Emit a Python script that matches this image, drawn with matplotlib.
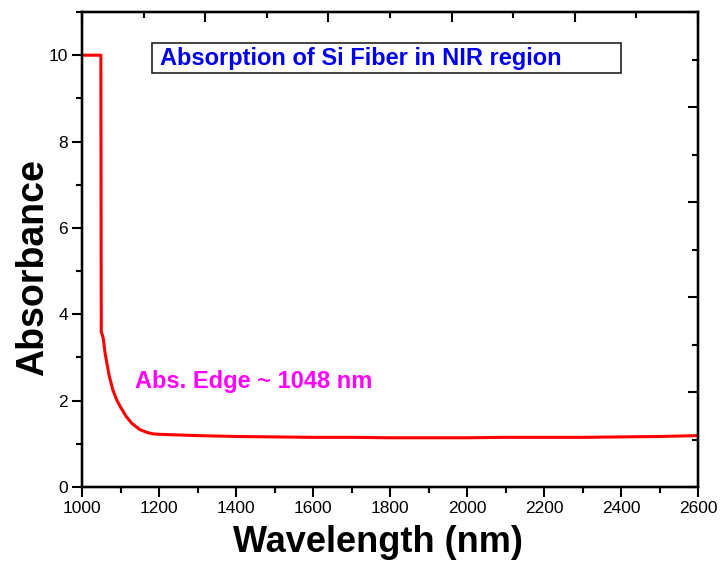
import matplotlib
matplotlib.use("Agg")
import matplotlib.pyplot as plt
from matplotlib.ticker import MultipleLocator
from matplotlib.patches import Rectangle

# Absorption spectrum of the Si fiber (wavelength in nm, absorbance)
wavelength = [1000, 1049, 1050, 1055, 1060, 1070, 1080, 1090, 1100, 1115,
              1130, 1150, 1170, 1185, 1200, 1300, 1400, 1500, 1600, 1700,
              1800, 1900, 2000, 2100, 2200, 2300, 2400, 2500, 2600]
absorbance = [10.0, 10.0, 3.6, 3.45, 3.1, 2.6, 2.25, 2.02, 1.85, 1.63,
              1.47, 1.33, 1.26, 1.23, 1.22, 1.19, 1.17, 1.16, 1.15, 1.15,
              1.14, 1.14, 1.14, 1.15, 1.15, 1.15, 1.16, 1.17, 1.19]

title_text = "Absorption of Si Fiber in NIR region"
edge_text = "Abs. Edge ~ 1048 nm"
x_label = "Wavelength (nm)"
y_label = "Absorbance"

plt.rcParams['font.family'] = ['Liberation Sans', 'DejaVu Sans']

fig = plt.figure(figsize=(7.22, 5.69), dpi=100)
ax = fig.add_axes([82 / 722, 82 / 569, 616 / 722, 475 / 569])

ax.plot(wavelength, absorbance, color='#ff0000', lw=2.2)

ax.set_xlim(1000, 2600)
ax.set_ylim(0, 11)
ax.xaxis.set_major_locator(MultipleLocator(200))
ax.xaxis.set_minor_locator(MultipleLocator(100))
ax.yaxis.set_major_locator(MultipleLocator(2))
ax.yaxis.set_minor_locator(MultipleLocator(1))
ax.tick_params(which='major', direction='out', length=7, width=1.5,
               labelsize=12.5, pad=3)
ax.tick_params(which='minor', direction='out', length=4, width=1.5)
for sp in ax.spines.values():
    sp.set_linewidth(1.6)

# unlabeled opposite axes with their own default scaling
axr = ax.twinx()
axr.set_ylim(0, 10)
axr.yaxis.set_major_locator(MultipleLocator(2))
axr.yaxis.set_minor_locator(MultipleLocator(1))
axr.tick_params(which='both', direction='in', labelright=False, width=1.5)
axr.tick_params(which='major', length=7)
axr.tick_params(which='minor', length=4)
axt = ax.twiny()
axt.set_xlim(0, 10)
axt.xaxis.set_major_locator(MultipleLocator(2))
axt.xaxis.set_minor_locator(MultipleLocator(1))
axt.tick_params(which='both', direction='in', labeltop=False, width=1.5)
axt.tick_params(which='major', length=7)
axt.tick_params(which='minor', length=4)
for a in (axr, axt):
    for sp in a.spines.values():
        sp.set_linewidth(1.6)

ax.set_xlabel(x_label, fontsize=26, fontweight='bold')
ax.set_ylabel(y_label, fontsize=27, fontweight='bold')
ax.xaxis.set_label_coords(0.4805, -0.079)
ax.yaxis.set_label_coords(-0.05, 0.463)

box = Rectangle((0.1136, 0.8716), 0.7614, 0.0631, transform=ax.transAxes,
                facecolor='white', edgecolor='#222222', lw=1.2, zorder=5)
ax.add_patch(box)
ax.text(0.1266, 0.903, title_text, transform=ax.transAxes, color='#0000ee',
        fontsize=17, fontweight='bold', va='center', ha='left', zorder=6)

ax.text(1138, 2.45, edge_text, color='#ff00ff', fontsize=17,
        fontweight='bold', va='center', ha='left')

fig.savefig("out.png", dpi=100)
